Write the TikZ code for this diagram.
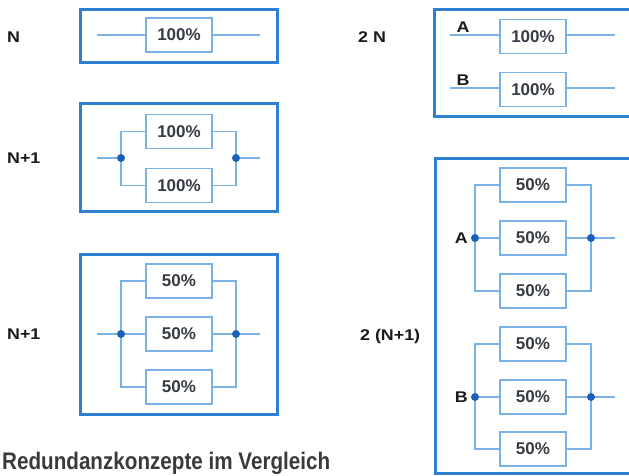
\documentclass[tikz,border=0pt]{standalone}
\usepackage{fontspec}
\setmainfont{Liberation Sans}
\newfontfamily\lblfont{Liberation Sans}[FakeStretch=1.15]
\newfontfamily\capfont{Liberation Sans}[FakeStretch=0.86]
\definecolor{boxblue}{HTML}{2C80D2}
\definecolor{lineblue}{HTML}{7AB2E8}
\definecolor{dotblue}{HTML}{1A60B8}
\definecolor{unittext}{HTML}{363B44}
\definecolor{lbltext}{HTML}{1A1A1A}
\definecolor{captext}{HTML}{3A3A3A}
\tikzset{
  outerbox/.style={draw=boxblue, line width=3pt, inner sep=0pt},
  unitbox/.style={draw=lineblue, line width=1.2pt, fill=white, minimum width=66pt, minimum height=34pt, inner sep=0pt,
    font=\fontsize{17}{19}\selectfont\bfseries, text=unittext},
  wire/.style={draw=lineblue, line width=1.2pt},
  jdot/.style={circle, fill=dotblue, inner sep=0pt, minimum size=8pt},
  grouplbl/.style={font=\lblfont\fontsize{15.5}{17}\selectfont\bfseries, text=lbltext, inner sep=0pt},
  sublbl/.style={font=\lblfont\fontsize{15.5}{17}\selectfont\bfseries, text=lbltext, inner sep=0pt},
}
\begin{document}
\begin{tikzpicture}[x=1pt, y=-1pt]
\useasboundingbox[fill=white] (0,0) rectangle (629,476);
\clip (0,0) rectangle (629,476);

% ---------- Left column ----------
% N
\node[grouplbl, anchor=west] (lN) at (7,37) {N};
\node[outerbox, minimum width=197pt, minimum height=53pt] (b1) at (178.5,36.5) {};
\coordinate (b1in) at (97,35);
\coordinate (b1out) at (260,35);
\node[unitbox] (u1) at (179,35) {100\%};
\draw[wire] (b1in) -- (u1.west);
\draw[wire] (u1.east) -- (b1out);

% N+1 (2 x 100%)
\node[grouplbl, anchor=west] (lN1a) at (7,158) {N+1};
\node[outerbox, minimum width=197pt, minimum height=107pt] (b2) at (178.5,157.5) {};
\node[unitbox] (u21) at (179,131.5) {100\%};
\node[unitbox] (u22) at (179,185.5) {100\%};
\coordinate (b2in) at (97,158);
\coordinate (b2out) at (260,158);
\coordinate (d2l) at (121,158);
\coordinate (d2r) at (236,158);
\draw[wire] (b2in) -- (d2l);
\draw[wire] (d2r) -- (b2out);
\draw[wire] (u21.west) -| (d2l) |- (u22.west);
\draw[wire] (u21.east) -| (d2r) |- (u22.east);
\node[jdot] (j2l) at (d2l) {};
\node[jdot] (j2r) at (d2r) {};

% N+1 (3 x 50%)
\node[grouplbl, anchor=west] (lN1b) at (7,334) {N+1};
\node[outerbox, minimum width=197pt, minimum height=160pt] (b3) at (178.5,334) {};
\node[unitbox] (u31) at (179,281) {50\%};
\node[unitbox] (u32) at (179,334) {50\%};
\node[unitbox] (u33) at (179,387) {50\%};
\coordinate (b3in) at (97,334);
\coordinate (b3out) at (260,334);
\coordinate (d3l) at (121,334);
\coordinate (d3r) at (236,334);
\draw[wire] (b3in) -- (d3l);
\draw[wire] (d3l) -- (u32.west);
\draw[wire] (u32.east) -- (d3r);
\draw[wire] (d3r) -- (b3out);
\draw[wire] (u31.west) -| (d3l) |- (u33.west);
\draw[wire] (u31.east) -| (d3r) |- (u33.east);
\node[jdot] (j3l) at (d3l) {};
\node[jdot] (j3r) at (d3r) {};

% caption
\node[anchor=base west, inner sep=0pt, text=captext, font=\capfont\fontsize{24}{26}\selectfont\bfseries] (cap) at (2,469.5) {Redundanzkonzepte im Vergleich};

% ---------- Right column ----------
% 2 N
\node[grouplbl, anchor=west] (l2N) at (358,37) {2 N};
\node[outerbox, minimum width=236pt, minimum height=107pt] (b4) at (552,63.5) {};
\node[unitbox] (u41) at (533,36.5) {100\%};
\node[unitbox] (u42) at (533,89.5) {100\%};
\coordinate (b4ain) at (450,35);
\coordinate (b4aout) at (615,35);
\coordinate (b4bin) at (450,88);
\coordinate (b4bout) at (615,88);
\draw[wire] (b4ain) -- (b4ain -| u41.west);
\draw[wire] (b4aout -| u41.east) -- (b4aout);
\draw[wire] (b4bin) -- (b4bin -| u42.west);
\draw[wire] (b4bout -| u42.east) -- (b4bout);
\node[sublbl, anchor=south] (lA1) at (463,33) {A};
\node[sublbl, anchor=south] (lB1) at (463,86) {B};

% 2 (N+1)
\node[grouplbl, anchor=west] (l2N1) at (360,336) {2 (N+1)};
\node[outerbox, minimum width=236pt, minimum height=315pt] (b5) at (553,315.5) {};
% group A
\node[unitbox] (u51) at (533,185) {50\%};
\node[unitbox] (u52) at (533,238) {50\%};
\node[unitbox] (u53) at (533,291) {50\%};
\coordinate (d5l) at (475,238);
\coordinate (d5r) at (591,238);
\coordinate (b5aout) at (615,238);
\node[sublbl, anchor=east] (lA2) at (468,238) {A};
\draw[wire] (d5l) -- (u52.west);
\draw[wire] (u52.east) -- (d5r);
\draw[wire] (d5r) -- (b5aout);
\draw[wire] (u51.west) -| (d5l) |- (u53.west);
\draw[wire] (u51.east) -| (d5r) |- (u53.east);
\node[jdot] (j5l) at (d5l) {};
\node[jdot] (j5r) at (d5r) {};
% group B
\node[unitbox] (u61) at (533,344) {50\%};
\node[unitbox] (u62) at (533,397) {50\%};
\node[unitbox] (u63) at (533,449) {50\%};
\coordinate (d6l) at (475,397);
\coordinate (d6r) at (591,397);
\coordinate (b5bout) at (615,397);
\node[sublbl, anchor=east] (lB2) at (468,397) {B};
\draw[wire] (d6l) -- (u62.west);
\draw[wire] (u62.east) -- (d6r);
\draw[wire] (d6r) -- (b5bout);
\draw[wire] (u61.west) -| (d6l) |- (u63.west);
\draw[wire] (u61.east) -| (d6r) |- (u63.east);
\node[jdot] (j6l) at (d6l) {};
\node[jdot] (j6r) at (d6r) {};
\end{tikzpicture}
\end{document}
